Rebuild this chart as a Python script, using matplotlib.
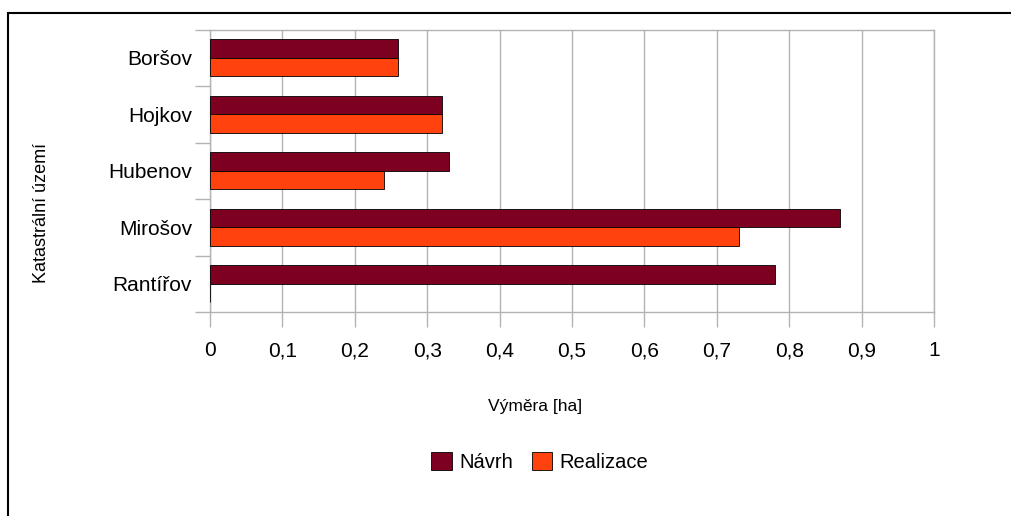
import matplotlib
matplotlib.use("Agg")
import matplotlib.pyplot as plt
from matplotlib.patches import Rectangle
import numpy as np

plt.rcParams['font.family'] = ['Liberation Sans', 'DejaVu Sans']

categories = ["Boršov", "Hojkov", "Hubenov", "Mirošov", "Rantířov"]
navrh = [0.26, 0.32, 0.33, 0.87, 0.78]
realizace = [0.26, 0.32, 0.24, 0.73, 0.0]
x_ticks = [0, 0.1, 0.2, 0.3, 0.4, 0.5, 0.6, 0.7, 0.8, 0.9, 1.0]
x_tick_labels = ["0", "0,1", "0,2", "0,3", "0,4", "0,5", "0,6", "0,7", "0,8", "0,9", "1"]

c_navrh = "#7E0021"
c_real = "#FF420E"
grid_c = "#b3b3b3"

W, H = 1012, 516
fig = plt.figure(figsize=(W / 100, H / 100), dpi=100)

# outer frame (top and left edges visible)
fig.add_artist(Rectangle((8 / W, -0.1), 1.2, (H - 13) / H + 0.1, transform=fig.transFigure,
                         fill=False, edgecolor="black", linewidth=1.5))

left, right, top, bottom = 210, 934, 29.5, 312
ax = fig.add_axes([left / W, 1 - bottom / H, (right - left) / W, (bottom - top) / H])

n = len(categories)
pos = np.arange(n)
bh = 0.33
ax.barh(pos - bh / 2, navrh, height=bh, color=c_navrh, edgecolor="black", linewidth=0.6,
        label="Návrh", zorder=3)
ax.barh(pos + bh / 2, realizace, height=bh, color=c_real, edgecolor="black", linewidth=0.6,
        label="Realizace", zorder=3)

ax.set_xlim(0, 1)
ax.set_ylim(n - 0.5, -0.5)
ax.set_xticks(x_ticks)
ax.set_xticklabels(x_tick_labels, fontsize=15)
ax.set_yticks(pos)
ax.set_yticklabels(categories, fontsize=15)
ax.set_yticks(np.arange(n + 1) - 0.5, minor=True)
ax.tick_params(axis='y', which='major', length=0, pad=13)
ax.tick_params(axis='y', which='minor', length=11, color=grid_c, width=1)
ax.tick_params(axis='x', which='major', length=11, color=grid_c, width=1, pad=10)
ax.xaxis.grid(True, color=grid_c, linewidth=1, zorder=0)
for s in ax.spines.values():
    s.set_color(grid_c)
    s.set_linewidth(1)

fig.text(535 / W, 1 - 407 / H, "Výměra [ha]", fontsize=12.5, ha="center", va="center")
fig.text(41 / W, 1 - 213 / H, "Katastrální území", fontsize=13, ha="center", va="center",
         rotation=90)

leg = fig.legend(loc="center", bbox_to_anchor=(540 / W, 1 - 462 / H), ncol=2, frameon=False,
                 fontsize=14.5, handlelength=1.0, handleheight=1.0, handletextpad=0.4,
                 columnspacing=0.9)

fig.savefig("out.png", dpi=100)
